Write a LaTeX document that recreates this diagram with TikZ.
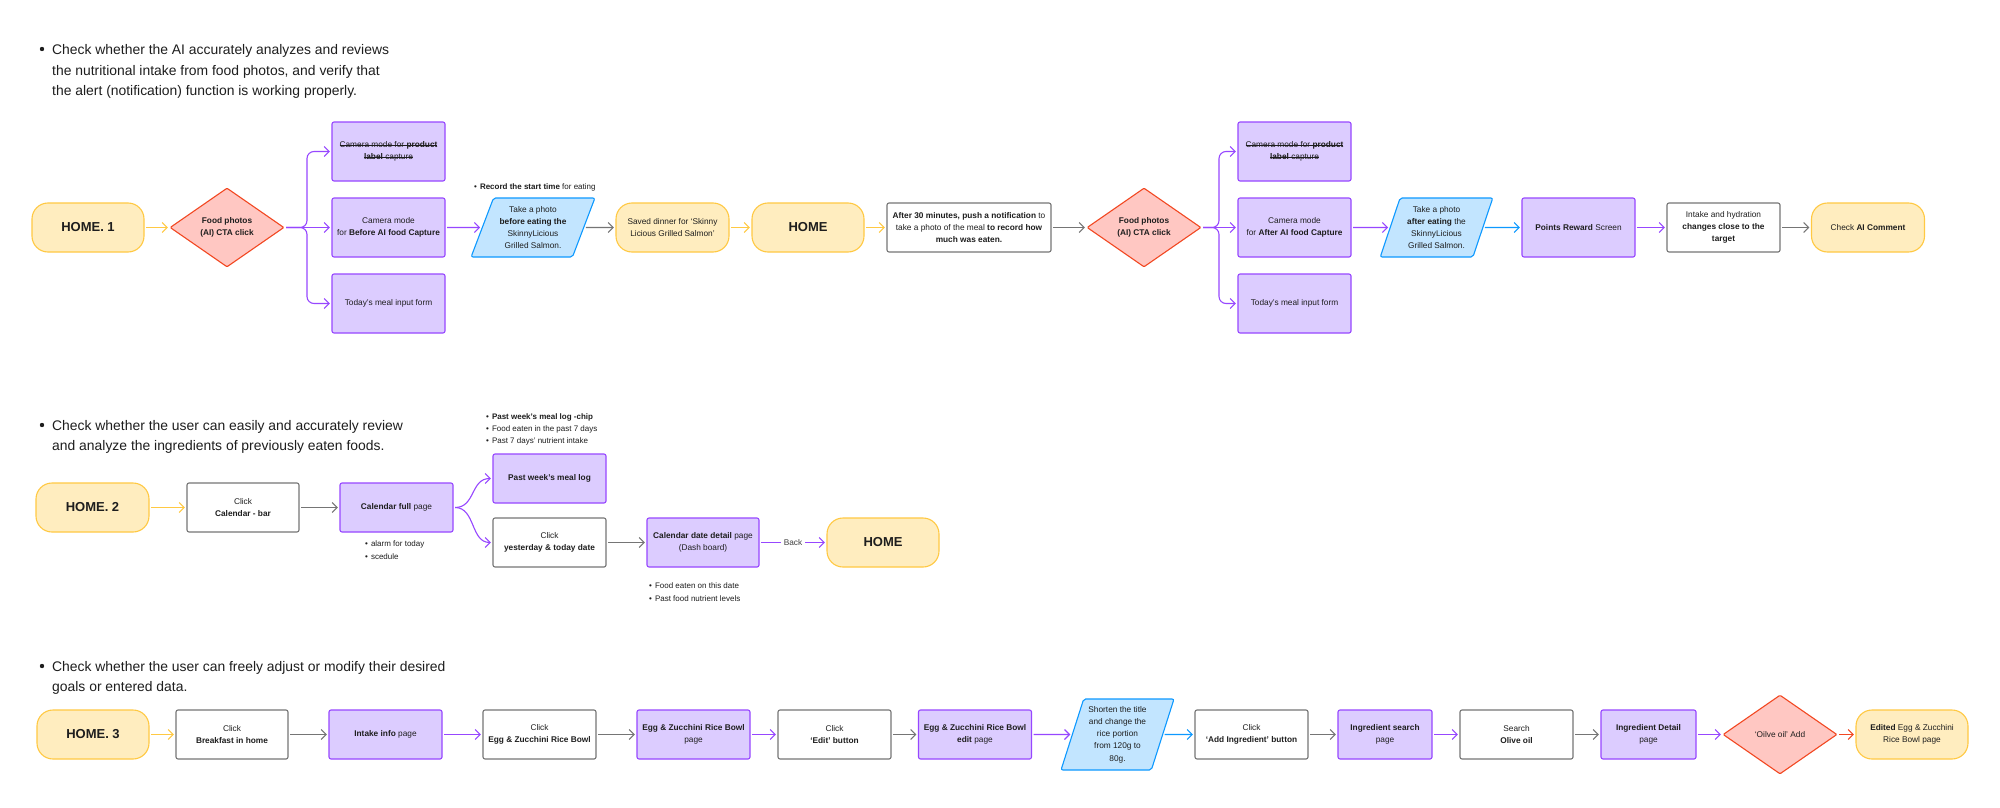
\documentclass[tikz,border=0pt]{standalone}
\usepackage{fontspec}
\setmainfont{Liberation Sans}
\usetikzlibrary{arrows.meta,shapes.geometric}
\newsavebox\strkbox
\newcommand\mystrk[1]{\sbox\strkbox{#1}\rlap{\rule[0.28em]{\wd\strkbox}{0.55pt}}\usebox\strkbox}
\newcommand\hometxt{\fontsize{13}{15}\selectfont\bfseries}
\definecolor{yfill}{HTML}{FFEDBF}
\definecolor{ydraw}{HTML}{FFC943}
\definecolor{pfill}{HTML}{DCCCFF}
\definecolor{pdraw}{HTML}{9747FF}
\definecolor{bfill}{HTML}{C2E5FF}
\definecolor{bdraw}{HTML}{0D99FF}
\definecolor{rfill}{HTML}{FFC7C2}
\definecolor{rdraw}{HTML}{F24822}
\definecolor{gdraw}{HTML}{757575}
\definecolor{ink}{HTML}{1E1E1E}
\tikzset{
  boxtxt/.style={font=\fontsize{8.3}{12.2}\selectfont, text=ink, align=center},
  box/.style={rectangle, rounded corners=2pt, line width=1.1pt, inner sep=0pt, boxtxt, minimum height=49pt},
  term/.style={box, fill=yfill, draw=ydraw, rounded corners=16pt},
  pbox/.style={box, fill=pfill, draw=pdraw},
  wbox/.style={box, fill=white, draw=gdraw},
  dec/.style={diamond, aspect=1.443, fill=rfill, draw=rdraw, line width=1.1pt, inner sep=0pt,
    minimum width=114pt, minimum height=79pt, boxtxt, rounded corners=1pt},
  para/.style={trapezium, trapezium stretches=true, fill=bfill, draw=bdraw, line width=1.1pt,
    inner sep=0pt, boxtxt, rounded corners=2pt},
  link/.style={-{Straight Barb[length=5pt,width=10pt,line width=1.1pt]}, line width=1.1pt,
    shorten <=1.5pt, shorten >=1.5pt},
  ya/.style={link, draw=ydraw},
  ga/.style={link, draw=gdraw},
  pa/.style={link, draw=pdraw},
  ba/.style={link, draw=bdraw},
  ra/.style={link, draw=rdraw},
  head/.style={anchor=north west, align=left, font=\fontsize{13.9}{20.5}\selectfont, text=ink, inner sep=0pt},
  note/.style={anchor=west, align=left, font=\fontsize{8}{12.4}\selectfont, text=ink, inner sep=0pt},
}
\begin{document}
\begin{tikzpicture}[x=1pt,y=-1pt]
\useasboundingbox (0,0) rectangle (2000,808);
\fill[white] (0,0) rectangle (2000,808);

% ---------- headings ----------
\fill[ink] (42,49) circle (2.2pt);
\node[head] (h1t) at (52,44.5) {Check whether the AI accurately analyzes and reviews\\the nutritional intake from food photos, and verify that\\the alert (notification) function is working properly.};
\fill[ink] (42,425) circle (2.2pt);
\node[head] (h2t) at (52,420) {Check whether the user can easily and accurately review\\and analyze the ingredients of previously eaten foods.};
\fill[ink] (42,666) circle (2.2pt);
\node[head] (h3t) at (52,661) {Check whether the user can freely adjust or modify their desired\\goals or entered data.};

% ---------- row 1 ----------
\node[term, minimum width=112pt] (h1) at (88,227.5) {\hometxt HOME. 1};
\node[dec] (d1) at (227,227.5) {\textbf{Food photos}\\\textbf{(AI) CTA click}};
\node[pbox, minimum width=113pt, minimum height=59pt] (c1a) at (388.5,151.5) {\mystrk{Camera mode for \textbf{product}}\\\mystrk{\textbf{label} capture}};
\node[pbox, minimum width=113pt, minimum height=59pt] (c1b) at (388.5,227.5) {Camera mode\\for \textbf{Before AI food Capture}};
\node[pbox, minimum width=113pt, minimum height=59pt] (c1c) at (388.5,303.5) {Today's meal input form};
\node[para, minimum width=124pt, minimum height=59pt, trapezium left angle=66, trapezium right angle=114] (p1) at (533,227.5) {Take a photo\\\textbf{before eating the}\\SkinnyLicious\\Grilled Salmon.};
\node[note] (n1t) at (474,187) {\textbullet\hspace{3pt}\textbf{Record the start time} for eating};
\node[term, minimum width=113pt] (s1) at (672.5,227.5) {Saved dinner for `Skinny\\Licious Grilled Salmon'};
\node[term, minimum width=112pt] (hm1) at (808,227.5) {\hometxt HOME};
\node[wbox, minimum width=164pt] (n1) at (969,227.5) {\textbf{After 30 minutes, push a notification} to\\take a photo of the meal \textbf{to record how}\\\textbf{much was eaten.}};
\node[dec] (d2) at (1144,227.5) {\textbf{Food photos}\\\textbf{(AI) CTA click}};
\node[pbox, minimum width=113pt, minimum height=59pt] (c2a) at (1294.5,151.5) {\mystrk{Camera mode for \textbf{product}}\\\mystrk{\textbf{label} capture}};
\node[pbox, minimum width=113pt, minimum height=59pt] (c2b) at (1294.5,227.5) {Camera mode\\for \textbf{After AI food Capture}};
\node[pbox, minimum width=113pt, minimum height=59pt] (c2c) at (1294.5,303.5) {Today's meal input form};
\node[para, minimum width=113pt, minimum height=59pt, trapezium left angle=69.5, trapezium right angle=110.5] (p2) at (1436.5,227.5) {Take a photo\\\textbf{after eating} the\\SkinnyLicious\\Grilled Salmon.};
\node[pbox, minimum width=113pt, minimum height=59pt] (pr) at (1578.5,227.5) {\textbf{Points Reward} Screen};
\node[wbox, minimum width=113pt] (it) at (1723.5,227.5) {Intake and hydration\\\textbf{changes close to the}\\\textbf{target}};
\node[term, minimum width=113pt] (ai) at (1868,227.5) {Check \textbf{AI Comment}};

\coordinate (j1) at (307,227.5);
\coordinate (j2) at (1219,227.5);
\draw[ya] (h1.east) -- (d1.west);
\draw[pa, rounded corners=7pt] (d1.east) -- (j1) |- (c1a.west);
\draw[pa] (d1.east) -- (c1b.west);
\draw[pa, rounded corners=7pt] (d1.east) -- (j1) |- (c1c.west);
\draw[pa] (c1b.east) -- (p1.west);
\draw[ga] (p1.east) -- (s1.west);
\draw[ya] (s1.east) -- (hm1.west);
\draw[ya] (hm1.east) -- (n1.west);
\draw[ga] (n1.east) -- (d2.west);
\draw[pa, rounded corners=7pt] (d2.east) -- (j2) |- (c2a.west);
\draw[pa] (d2.east) -- (c2b.west);
\draw[pa, rounded corners=7pt] (d2.east) -- (j2) |- (c2c.west);
\draw[pa] (c2b.east) -- (p2.west);
\draw[ba] (p2.east) -- (pr.west);
\draw[pa] (pr.east) -- (it.west);
\draw[ga] (it.east) -- (ai.west);

% ---------- row 2 ----------
\node[term, minimum width=113pt] (h2) at (92.5,507.5) {\hometxt HOME. 2};
\node[wbox, minimum width=112pt] (cb) at (243,507.5) {Click\\\textbf{Calendar - bar}};
\node[pbox, minimum width=113pt] (cf) at (396.5,507.5) {\textbf{Calendar full} page};
\node[note] (cfn) at (365,550) {\textbullet\hspace{3pt}alarm for today\\\textbullet\hspace{3pt}scedule};
\node[pbox, minimum width=113pt] (pw) at (549.5,478.5) {\textbf{Past week’s meal log}};
\node[note] (pwn) at (486,429.5) {\textbullet\hspace{3pt}\textbf{Past week’s meal log -chip}\\\textbullet\hspace{3pt}Food eaten in the past 7 days\\\textbullet\hspace{3pt}Past 7 days’ nutrient intake};
\node[wbox, minimum width=113pt] (cy) at (549.5,542.5) {Click\\\textbf{yesterday \& today date}};
\node[pbox, minimum width=112pt] (cd) at (703,542.5) {\textbf{Calendar date detail} page\\(Dash board)};
\node[note] (cdn) at (649,592) {\textbullet\hspace{3pt}Food eaten on this date\\\textbullet\hspace{3pt}Past food nutrient levels};
\node[term, minimum width=112pt] (hm2) at (883,542.5) {\hometxt HOME};

\draw[ya] (h2.east) -- (cb.west);
\draw[ga] (cb.east) -- (cf.west);
\draw[pa] (cf.east) .. controls ([xshift=22pt]cf.east) and ([xshift=-22pt]pw.west) .. (pw.west);
\draw[pa] (cf.east) .. controls ([xshift=22pt]cf.east) and ([xshift=-22pt]cy.west) .. (cy.west);
\draw[ga] (cy.east) -- (cd.west);
\draw[pa] (cd.east) -- node[fill=white, inner sep=3pt, font=\fontsize{8.3}{10}\selectfont, text=ink!85] (bk) {Back} (hm2.west);

% ---------- row 3 ----------
\node[term, minimum width=112pt] (h3) at (93,734.5) {\hometxt HOME. 3};
\node[wbox, minimum width=112pt] (cbh) at (232,734.5) {Click\\\textbf{Breakfast in home}};
\node[pbox, minimum width=113pt] (ii) at (385.5,734.5) {\textbf{Intake info} page};
\node[wbox, minimum width=113pt] (ce) at (539.5,734.5) {Click\\\textbf{Egg \& Zucchini Rice Bowl}};
\node[pbox, minimum width=113pt] (ep) at (693.5,734.5) {\textbf{Egg \& Zucchini Rice Bowl}\\page};
\node[wbox, minimum width=113pt] (ced) at (834.5,734.5) {Click\\\textbf{`Edit' button}};
\node[pbox, minimum width=113pt] (eep) at (975,734.5) {\textbf{Egg \& Zucchini Rice Bowl}\\\textbf{edit} page};
\node[para, minimum width=113pt, minimum height=71pt, trapezium left angle=71, trapezium right angle=109] (p3) at (1117.5,734.5) {Shorten the title\\and change the\\rice portion\\from 120g to\\80g.};
\node[wbox, minimum width=113pt] (cai) at (1251.5,734.5) {Click\\\textbf{`Add Ingredient' button}};
\node[pbox, minimum width=94pt] (isp) at (1385,734.5) {\textbf{Ingredient search}\\page};
\node[wbox, minimum width=113pt] (so) at (1516.5,734.5) {Search\\\textbf{Olive oil}};
\node[pbox, minimum width=95pt] (idp) at (1648.5,734.5) {\textbf{Ingredient Detail}\\page};
\node[dec] (d3) at (1780,734.5) {`Oilve oil' Add};
\node[term, minimum width=112pt] (ed) at (1912,734.5) {\textbf{Edited} Egg \& Zucchini\\Rice Bowl page};

\draw[ya] (h3.east) -- (cbh.west);
\draw[ga] (cbh.east) -- (ii.west);
\draw[pa] (ii.east) -- (ce.west);
\draw[ga] (ce.east) -- (ep.west);
\draw[pa] (ep.east) -- (ced.west);
\draw[ga] (ced.east) -- (eep.west);
\draw[pa] (eep.east) -- (p3.west);
\draw[ba] (p3.east) -- (cai.west);
\draw[ga] (cai.east) -- (isp.west);
\draw[pa] (isp.east) -- (so.west);
\draw[ga] (so.east) -- (idp.west);
\draw[pa] (idp.east) -- (d3.west);
\draw[ra] (d3.east) -- (ed.west);
\end{tikzpicture}
\end{document}
